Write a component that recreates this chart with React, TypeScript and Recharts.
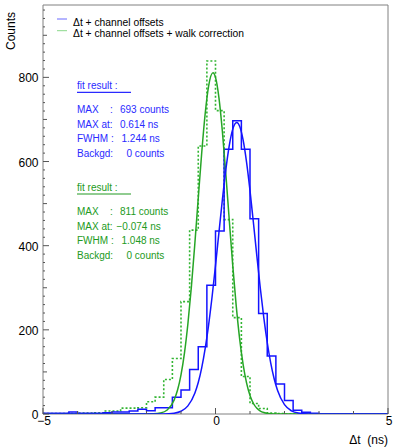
import React from 'react';
import { ComposedChart, Line, XAxis, YAxis, ReferenceArea } from 'recharts';

// histogram binning: 40 bins of 0.25 ns between -5 and 5
const binEdges = [
  -5, -4.75, -4.5, -4.25, -4, -3.75, -3.5, -3.25, -3, -2.75, -2.5, -2.25, -2, -1.75, -1.5, -1.25,
  -1, -0.75, -0.5, -0.25, 0, 0.25, 0.5, 0.75, 1, 1.25, 1.5, 1.75, 2, 2.25, 2.5, 2.75,
  3, 3.25, 3.5, 3.75, 4, 4.25, 4.5, 4.75, 5,
];

// Δt + channel offsets
const blueCounts = [
  2, 2, 2, 5, 2, 2, 2, 3, 5, 5, 7, 11, 8, 15, 15, 40,
  57, 106, 160, 306, 435, 629, 697, 629, 464, 239, 138, 71, 32, 9, 4, 2,
  0, 0, 0, 0, 0, 0, 0, 0,
];

// Δt + channel offsets + walk correction
const greenCounts = [
  1, 1, 1, 1, 2, 2, 3, 7, 7, 14, 14, 15, 29, 40, 82, 132,
  267, 437, 637, 839, 721, 462, 229, 89, 25, 13, 2, 1,
  0, 0, 0, 0, 0, 0, 0, 0, 0, 0, 0, 0,
];

// fitted curves
const blueFitX = [-5, -1.5, -1.2, -1.0, -0.8, -0.6, -0.5, -0.4, -0.3, -0.2, -0.1, 0, 0.1, 0.2, 0.3, 0.4, 0.5, 0.614,
  0.7, 0.8, 0.9, 1.0, 1.1, 1.2, 1.3, 1.4, 1.5, 1.6, 1.7, 1.8, 2.0, 2.2, 2.4, 2.7, 5];
const blueFitY = [0, 0.2, 1.9, 6.5, 19.3, 49.5, 75.0, 109.8, 155.2, 211.4, 278.0, 352.7, 431.7, 509.8, 580.8, 638.4, 677.0, 693,
  684.0, 651.3, 598.6, 530.7, 453.9, 374.6, 298.3, 229.1, 169.9, 121.4, 83.8, 55.8, 22.2, 7.6, 2.3, 0.2, 0];

const greenFitX = [-5, -2.0, -1.8, -1.6, -1.4, -1.2, -1.1, -1.0, -0.9, -0.8, -0.7, -0.6, -0.5, -0.4, -0.3, -0.2, -0.074,
  0.0, 0.1, 0.2, 0.3, 0.4, 0.5, 0.6, 0.7, 0.8, 0.9, 1.0, 1.1, 1.2, 1.3, 1.4, 1.6, 1.8, 5];
const greenFitY = [0, 0.1, 0.4, 2.3, 9.6, 33.0, 56.9, 93.1, 144.8, 214.4, 301.5, 403.3, 512.9, 620.2, 712.9, 779.1, 811,
  799.9, 751.3, 671.0, 569.7, 459.9, 353.0, 257.6, 178.7, 117.9, 74.0, 44.1, 25.0, 13.5, 6.9, 3.4, 0.7, 0.1, 0];

const yLabels = [0, 200, 400, 600, 800];
const xLabels = [-5, 0, 5];
const xTicks = [-5, -4, -3, -2, -1, 0, 1, 2, 3, 4, 5];
const yTicks = Array.from({ length: 49 }, (_, i) => i * 20);

const W = 395;
const H = 448;
const PL = 43;
const PB = 414;
const font = '"Liberation Sans", Arial, Helvetica, sans-serif';

const toHist = (counts: number[]) =>
  binEdges.map((x, i) => ({ x, v: counts[Math.min(i, counts.length - 1)] }));
const toCurve = (xs: number[], ys: number[]) => xs.map((x, i) => ({ x, v: ys[i] }));

const blueHist = toHist(blueCounts);
const greenHist = toHist(greenCounts);
const blueFit = toCurve(blueFitX, blueFitY);
const greenFit = toCurve(greenFitX, greenFitY);

const YTick = (props: any) => {
  const { y, payload } = props;
  const v = payload.value;
  const len = v % 200 === 0 ? 6 : v % 100 === 0 ? 4 : 2;
  return (
    <g>
      <line x1={PL} x2={PL + len} y1={y} y2={y} stroke="#555" strokeWidth={1} />
      {yLabels.includes(v) && (
        <text x={38.5} y={y + 5} textAnchor="end" fontSize={12} fontFamily={font} fill="#000">
          {v}
        </text>
      )}
    </g>
  );
};

const XTick = (props: any) => {
  const { x, payload } = props;
  const v = payload.value;
  const major = xLabels.includes(v);
  return (
    <g>
      <line x1={x} x2={x} y1={PB} y2={PB - (major ? 6 : 3)} stroke="#555" strokeWidth={1} />
      {major && (
        <text x={x + 1} y={425} textAnchor="middle" fontSize={12} fontFamily={font} fill="#000">
          {v < 0 ? `\u2212${Math.abs(v)}` : v}
        </text>
      )}
    </g>
  );
};

const BLUE = '#1414ff';
const GREEN = '#26a526';
const GREEN_H = '#33b533';
const BLUE_TXT = '#2a2aff';
const GREEN_TXT = '#229a22';

const FitBox = ({ top, color, max, at, fwhm }: { top: number; color: string; max: string; at: string; fwhm: string }) => (
  <g fontFamily={font} fontSize={10} fill={color}>
    <text x={77} y={top}>fit result :</text>
    <line x1={77} x2={131} y1={top + 3} y2={top + 3} stroke={color} strokeWidth={1.2} />
    <text x={77} y={top + 24}>MAX</text>
    <text x={110} y={top + 24}>:</text>
    <text x={120} y={top + 24}>{max} counts</text>
    <text x={77} y={top + 38.5}>MAX at:</text>
    <text x={at.startsWith('\u2212') ? 116.5 : 120} y={top + 38.5}>{at} ns</text>
    <text x={77} y={top + 53}>FWHM :</text>
    <text x={121.5} y={top + 53}>{fwhm} ns</text>
    <text x={77} y={top + 67.5}>Backgd:</text>
    <text x={126.5} y={top + 67.5}>0 counts</text>
  </g>
);

export default function App() {
  return (
    <div style={{ position: 'absolute', left: 0, top: 0, width: W, height: H, background: '#fff' }}>
      <ComposedChart width={W} height={H} margin={{ top: 5, right: 7, left: 0, bottom: 0 }}>
        <XAxis
          dataKey="x"
          type="number"
          domain={[-5, 5]}
          allowDataOverflow
          ticks={xTicks}
          interval={0}
          tick={XTick}
          tickLine={false}
          axisLine={false}
          height={34}
        />
        <YAxis
          type="number"
          domain={[0, 972]}
          allowDataOverflow
          ticks={yTicks}
          interval={0}
          tick={YTick}
          tickLine={false}
          axisLine={false}
          width={43}
        />
        <ReferenceArea x1={-5} x2={5} y1={0} y2={972} fill="none" stroke="#808080" strokeWidth={1} ifOverflow="visible" />
        <Line data={greenHist} dataKey="v" type="stepAfter" stroke={GREEN_H} strokeWidth={1.6} strokeDasharray="2 2"
          dot={false} activeDot={false} isAnimationActive={false} />
        <Line data={blueHist} dataKey="v" type="stepAfter" stroke={BLUE} strokeWidth={1.5}
          dot={false} activeDot={false} isAnimationActive={false} />
        <Line data={greenFit} dataKey="v" type="monotone" stroke={GREEN} strokeWidth={1.5}
          dot={false} activeDot={false} isAnimationActive={false} />
        <Line data={blueFit} dataKey="v" type="monotone" stroke={BLUE} strokeWidth={1.5}
          dot={false} activeDot={false} isAnimationActive={false} />
      </ComposedChart>
      <svg width={W} height={H} style={{ position: 'absolute', left: 0, top: 0, pointerEvents: 'none' }}>
        <text x={15} y={12} transform="rotate(-90 15 12)" textAnchor="end" fontSize={12} fontFamily={font} fill="#000">
          Counts
        </text>
        <text x={388} y={444} textAnchor="end" fontSize={12} fontFamily={font} fill="#000" xmlSpace="preserve">
          {'\u0394t  (ns)'}
        </text>
        <line x1={57} x2={67} y1={19} y2={19} stroke="#6b6bff" strokeWidth={1} />
        <line x1={57} x2={67} y1={30.7} y2={30.7} stroke="#8ad88a" strokeWidth={1} />
        <text x={73} y={25.7} fontSize={10.3} fontFamily={font} fill="#000">
          {'\u0394t + channel offsets'}
        </text>
        <text x={73} y={37.3} fontSize={10.3} fontFamily={font} fill="#000">
          {'\u0394t + channel offsets + walk correction'}
        </text>
        <FitBox top={89.3} color={BLUE_TXT} max="693" at="0.614" fwhm="1.244" />
        <FitBox top={191} color={GREEN_TXT} max="811" at={'\u22120.074'} fwhm="1.048" />
      </svg>
    </div>
  );
}
